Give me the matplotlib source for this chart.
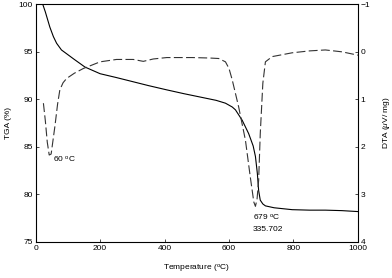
import numpy as np
import matplotlib
matplotlib.use("Agg")
import matplotlib.pyplot as plt

plt.rcParams['font.family'] = ['Liberation Sans', 'DejaVu Sans']
plt.rcParams['font.size'] = 6
plt.rcParams['mathtext.fontset'] = 'custom'
plt.rcParams['mathtext.rm'] = 'Liberation Sans'
plt.rcParams['mathtext.it'] = 'Liberation Sans:italic'

# TGA curve (solid)
tga_temp = [22, 30, 44, 55, 65, 80, 96, 120, 153, 200, 250, 303, 350, 407, 460, 510, 560,
            589, 610, 620, 641, 661, 675, 682, 688, 692, 697, 705, 713, 740, 796, 850, 899, 950, 1000]
tga_val = [100.0, 99.2, 97.6, 96.6, 95.9, 95.2, 94.8, 94.2, 93.4, 92.7, 92.3, 91.85, 91.45, 91.0,
           90.6, 90.25, 89.9, 89.6, 89.2, 88.9, 87.8, 86.4, 85.1, 84.0, 82.2, 80.4, 79.4, 79.0,
           78.8, 78.6, 78.4, 78.35, 78.35, 78.3, 78.2]

# DTA curve (dashed), right axis
dta_temp = [24, 30, 36, 42, 48, 54, 60, 68, 75, 85, 96, 120, 148, 200, 251, 303, 334, 365, 407,
            486, 540, 568, 589, 600, 610, 630, 651, 666, 677, 682, 687, 692, 697, 705, 713,
            734, 796, 850, 899, 951, 1000]
dta_val = [1.08, 1.45, 1.9, 2.17, 2.15, 1.85, 1.55, 1.1, 0.8, 0.65, 0.56, 0.45, 0.35, 0.21, 0.16,
           0.16, 0.2, 0.15, 0.12, 0.12, 0.13, 0.14, 0.21, 0.35, 0.59, 1.16, 1.86, 2.63, 3.16,
           3.25, 3.1, 2.7, 1.72, 0.66, 0.21, 0.1, 0.02, -0.02, -0.04, 0.0, 0.07]

fig = plt.figure(figsize=(3.92, 2.78), dpi=100)
ax = fig.add_axes([0.091, 0.1295, 0.822, 0.855])
ax.plot(tga_temp, tga_val, color='black', lw=0.8)
ax.set_xlim(0, 1000)
ax.set_ylim(75, 100)
ax.set_xticks([0, 200, 400, 600, 800, 1000])
ax.set_yticks([75, 80, 85, 90, 95, 100])
ax.tick_params(direction='in', length=2.5, width=0.5, pad=2)
ax.set_xlabel('Temperature ($^{\\rm o}$C)', labelpad=8)
ax.set_ylabel('TGA (%)', labelpad=5)
for s in ax.spines.values():
    s.set_linewidth(0.6)

ax2 = ax.twinx()
ax2.plot(dta_temp, dta_val, color='#333333', lw=0.8, dashes=(8, 3))
ax2.set_ylim(4, -1)
ax2.set_yticks([-1, 0, 1, 2, 3, 4])
ax2.tick_params(direction='in', length=2.5, width=0.5, pad=2)
ax2.set_ylabel('DTA ($\\mu$V/ mg)', labelpad=8)

ax.text(54, 83.4, '60 $^{\\rm o}$C')
ax.text(674, 77.3, '679 $^{\\rm o}$C')
ax.text(674, 76.2, '335.702')

fig.savefig('out.png', dpi=100)
